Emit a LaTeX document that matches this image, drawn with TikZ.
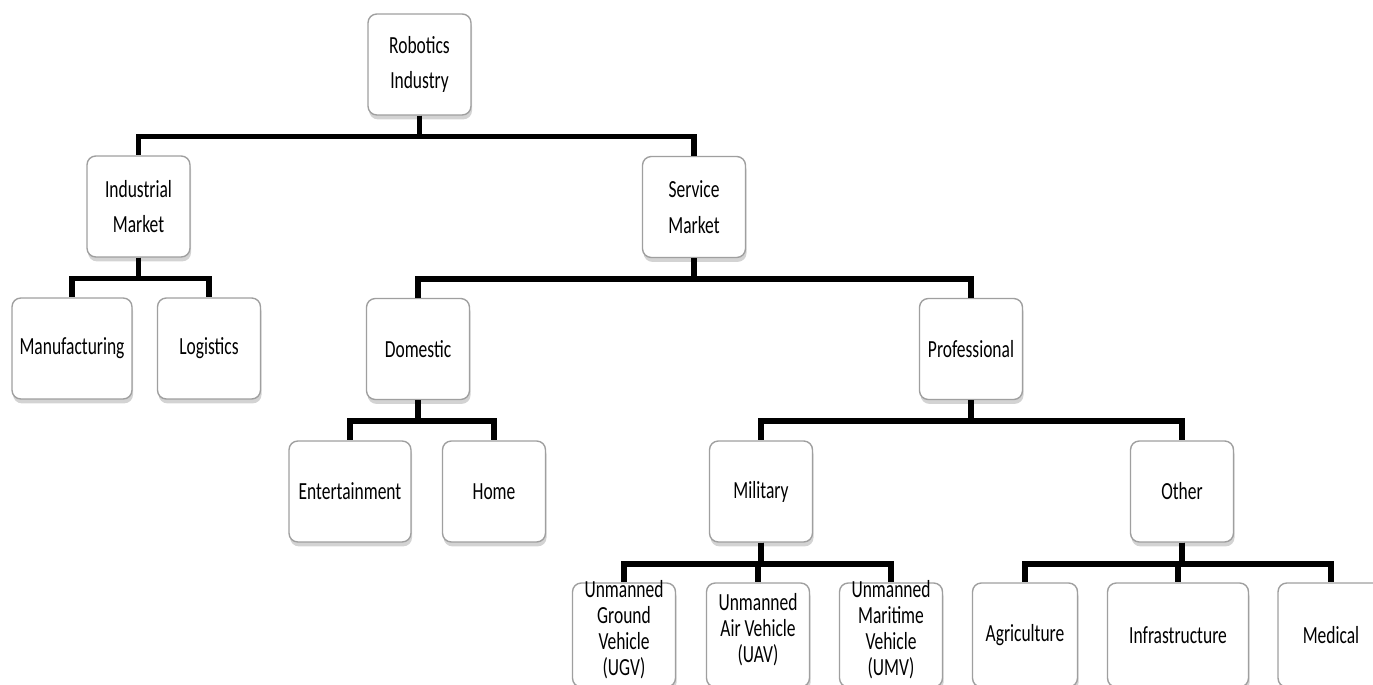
\documentclass[tikz,border=0pt]{standalone}
\usepackage{fontspec}
\setmainfont[FakeStretch=0.71]{Carlito}
\usetikzlibrary{positioning,shadows}

\tikzset{
  box/.style={draw=gray!75, fill=white, rounded corners=5pt, line width=0.8pt,
    minimum width=2.06cm, minimum height=2.02cm, align=center, inner sep=1pt,
    font=\fontsize{14}{20.4}\selectfont,
    drop shadow={shadow xshift=0.6pt, shadow yshift=-2.5pt, opacity=0.35, fill=gray}},
  leaf/.style={box, minimum height=2.08cm},
  tall/.style={align=center, font=\fontsize{14}{14.8}\selectfont, yshift=3pt},
  bus/.style={line width=3.2pt, black},
}

\begin{document}
\begin{tikzpicture}[x=0.02cm, y=-0.02cm]
  \useasboundingbox (0,0) rectangle (1373,685);

  % top levels
  \node[box] (root) at (419.5,64.5) {Robotics\\Industry};
  \node[box] (ind) at (138.5,206.5) {Industrial\\Market};
  \node[box] (serv) at (694,207) {Service\\Market};

  % industrial branch
  \node[box, minimum width=2.4cm] (manu) at (72,348.5) {Manufacturing};
  \node[box] (logi) at (209,348.5) {Logistics};

  % service branch
  \node[box] (dom) at (418,349) {Domestic};
  \node[box] (prof) at (971,349) {Professional};
  \node[box, minimum width=2.44cm] (ent) at (350,491.5) {Entertainment};
  \node[box] (home) at (494,491.5) {Home};
  \node[box] (mil) at (761,491.5) {Military};
  \node[box] (oth) at (1182,491.5) {Other};

  % leaves
  \node[leaf, label={[tall]center:{Unmanned\\Ground\\Vehicle\\(UGV)}}] (ugv) at (624,635) {};
  \node[leaf, label={[tall]center:{Unmanned\\Air Vehicle\\(UAV)}}] (uav) at (758,635) {};
  \node[leaf, label={[tall]center:{Unmanned\\Maritime\\Vehicle\\(UMV)}}] (umv) at (891,635) {};
  \node[leaf, minimum width=2.1cm] (agr) at (1025,635) {Agriculture};
  \node[leaf, minimum width=2.82cm] (inf) at (1178,635) {Infrastructure};
  \node[leaf, minimum width=2.12cm] (med) at (1331,635) {Medical};

  % connectors
  \foreach \p/\c in {root/ind, root/serv, ind/manu, ind/logi, serv/dom, serv/prof,
                     dom/ent, dom/home, prof/mil, prof/oth, mil/ugv, mil/uav, mil/umv,
                     oth/agr, oth/inf, oth/med}
    \draw[bus] (\p.south) -- ++(0,21) -| (\c.north);
\end{tikzpicture}
\end{document}
